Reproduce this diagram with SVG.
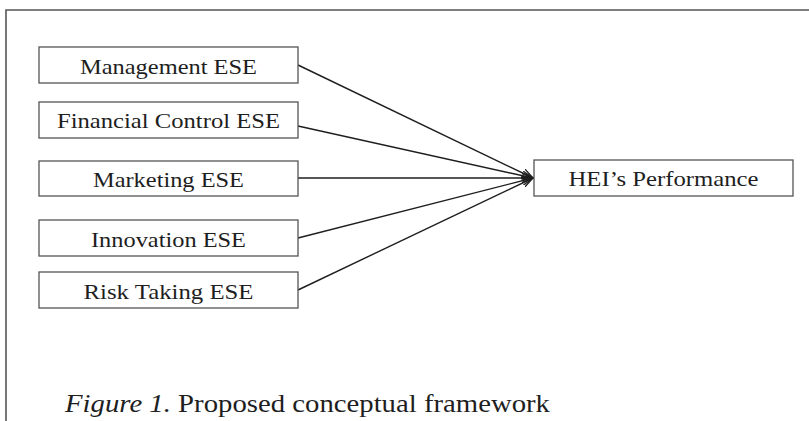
<svg xmlns="http://www.w3.org/2000/svg" width="809" height="421" viewBox="0 0 809 421">
<style>
.frame{fill:none;stroke:#555;stroke-width:1.6}
.box{fill:#fff;stroke:#555;stroke-width:1.3}
.lbl{font-family:"Liberation Serif","Times New Roman",serif;font-size:22px;fill:#1e1e1e;text-anchor:middle}
.cap{font-family:"Liberation Serif","Times New Roman",serif;font-size:25.5px;fill:#1e1e1e}
.conn{fill:none;stroke:#1e1e1e;stroke-width:1.4}
</style>
<defs>
<marker id="arr" viewBox="0 0 12 10" refX="11" refY="5" markerWidth="12" markerHeight="10" markerUnits="userSpaceOnUse" orient="auto">
<path d="M0,0.5 L11,5 L0,9.5" fill="none" stroke="#1e1e1e" stroke-width="1.3"/>
</marker>
</defs>
<rect width="809" height="421" fill="#fff"/>
<path class="frame" d="M6,421 V10 H809"/>
<g id="connectors">
<line class="conn" x1="298" y1="65" x2="533" y2="178" marker-end="url(#arr)"/>
<line class="conn" x1="298" y1="126" x2="533" y2="178" marker-end="url(#arr)"/>
<line class="conn" x1="298" y1="178" x2="533" y2="178" marker-end="url(#arr)"/>
<line class="conn" x1="298" y1="238" x2="533" y2="178" marker-end="url(#arr)"/>
<line class="conn" x1="298" y1="290" x2="533" y2="178" marker-end="url(#arr)"/>
</g>
<g id="management">
<rect class="box" x="39" y="47" width="259" height="36"/>
<text class="lbl" x="168.5" y="74" textLength="177" lengthAdjust="spacingAndGlyphs">Management ESE</text>
</g>
<g id="financial">
<rect class="box" x="39" y="102" width="259" height="36"/>
<text class="lbl" x="168.5" y="128" textLength="223" lengthAdjust="spacingAndGlyphs">Financial Control ESE</text>
</g>
<g id="marketing">
<rect class="box" x="39" y="161" width="259" height="35"/>
<text class="lbl" x="168.5" y="187" textLength="151" lengthAdjust="spacingAndGlyphs">Marketing ESE</text>
</g>
<g id="innovation">
<rect class="box" x="39" y="220" width="259" height="36"/>
<text class="lbl" x="168.5" y="247" textLength="155" lengthAdjust="spacingAndGlyphs">Innovation ESE</text>
</g>
<g id="risk">
<rect class="box" x="39" y="272" width="259" height="36"/>
<text class="lbl" x="168.5" y="298.5" textLength="170" lengthAdjust="spacingAndGlyphs">Risk Taking ESE</text>
</g>
<g id="performance">
<rect class="box" x="534" y="160" width="259" height="36"/>
<text class="lbl" x="663.5" y="186" textLength="190" lengthAdjust="spacingAndGlyphs">HEI’s Performance</text>
</g>
<text class="cap" x="65" y="412" textLength="485" lengthAdjust="spacingAndGlyphs"><tspan font-style="italic">Figure 1.</tspan> Proposed conceptual framework</text>
</svg>
